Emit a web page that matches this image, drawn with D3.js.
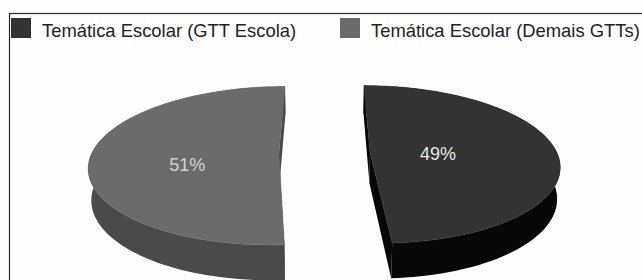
<!DOCTYPE html>
<html>
<head>
<meta charset="utf-8">
<script src="https://cdn.jsdelivr.net/npm/d3@7"></script>
<style>
  body { margin: 0; background: #fefefe; }
  svg { display: block; overflow: hidden; }
  text { font-family: "Liberation Sans", Arial, sans-serif; }
</style>
</head>
<body>
<script>
//------------------------------------------------------------------------------
// Data
//------------------------------------------------------------------------------

var categories = ["Temática Escolar (GTT Escola)", "Temática Escolar (Demais GTTs)"];
var values = [49, 51];
var valueLabels = ["49%", "51%"];

//------------------------------------------------------------------------------
// Styles / view
//------------------------------------------------------------------------------

var width = 642, height = 280;
var topColors = ["#333333", "#6b6b6b"];
var sideColors = ["#070707", "#4a4a4a"];
var labelNudge = [[-12, 3], [-11, 10]];

// camera: tilt, distance, explode and slice thickness (pie radius = 1)
var sinT = 0.4126, cosT = Math.sqrt(1 - sinT * sinT);
var dist = 5.875, explode = 0.244, thick = 0.185;

var svg = d3.select("body").append("svg")
  .attr("width", width)
  .attr("height", height);

// screen mapping of perspective coords
var x = d3.scaleLinear().domain([-1, 1]).range([324.5 - 186.9, 324.5 + 186.9]);
var y = d3.scaleLinear().domain([-1, 1]).range([152.8 + 186.9, 152.8 - 186.9]);

function project(X, Y, Z) {
  var depth = dist + Z * cosT - Y * sinT;
  return [x(X * dist / depth), y((Y * cosT + Z * sinT) * dist / depth)];
}

var line = d3.line().curve(d3.curveLinearClosed);
var pie = d3.pie().sort(null).value(function(d) { return d; });
var arcs = pie(values);

//--------------------------------------
// Frame
//--------------------------------------

svg.append("rect")
  .attr("x", 9.5).attr("y", 13.5)
  .attr("width", 800).attr("height", 400)
  .attr("fill", "none")
  .attr("stroke", "#2a2a2a")
  .attr("stroke-width", 1.2);

//--------------------------------------
// Legend
//--------------------------------------

var legendX = [11, 340];
var legend = svg.selectAll(".legend")
  .data(categories)
  .enter().append("g")
  .attr("class", "legend")
  .attr("transform", function(d, i) { return "translate(" + legendX[i] + ",18)"; });

legend.append("rect")
  .attr("width", 20).attr("height", 20)
  .attr("fill", function(d, i) { return topColors[i]; });

legend.append("text")
  .attr("x", 31).attr("y", 19)
  .attr("font-size", 18.4)
  .attr("fill", "#222")
  .text(function(d) { return d; });

//--------------------------------------
// Pie slices
//--------------------------------------

var steps = 90;

arcs.forEach(function(a, i) {
  var mid = (a.startAngle + a.endAngle) / 2;
  var ox = explode * Math.sin(mid), oz = explode * Math.cos(mid);
  var pt = function(ang, r, Y) {
    return project(ox + r * Math.sin(ang), Y, oz + r * Math.cos(ang));
  };
  var angs = d3.range(steps + 1).map(function(k) {
    return a.startAngle + (a.endAngle - a.startAngle) * k / steps;
  });

  var g = svg.append("g").attr("class", "slice");

  // outer wall
  var wall = angs.map(function(t) { return pt(t, 1, 0); })
    .concat(angs.slice().reverse().map(function(t) { return pt(t, 1, -thick); }));
  g.append("path").attr("d", line(wall)).attr("fill", sideColors[i]);

  // cut faces
  [a.startAngle, a.endAngle].forEach(function(t) {
    var q = [pt(0, 0, 0), pt(t, 1, 0), pt(t, 1, -thick), pt(0, 0, -thick)];
    g.append("path").attr("d", line(q)).attr("fill", sideColors[i]);
  });

  // top face
  var top = [pt(0, 0, 0)].concat(angs.map(function(t) { return pt(t, 1, 0); }));
  g.append("path").attr("d", line(top))
    .attr("fill", topColors[i])
    .attr("stroke", topColors[i])
    .attr("stroke-width", 0.5);

  // value label
  var lp = pt(mid, 0.43, 0);
  g.append("text")
    .attr("x", lp[0] + labelNudge[i][0]).attr("y", lp[1] + labelNudge[i][1])
    .attr("dy", "0.35em")
    .attr("text-anchor", "middle")
    .attr("font-size", 18)
    .attr("fill", i === 0 ? "#e6e6e6" : "#d2d2d2")
    .text(valueLabels[i]);
});
</script>
</body>
</html>
